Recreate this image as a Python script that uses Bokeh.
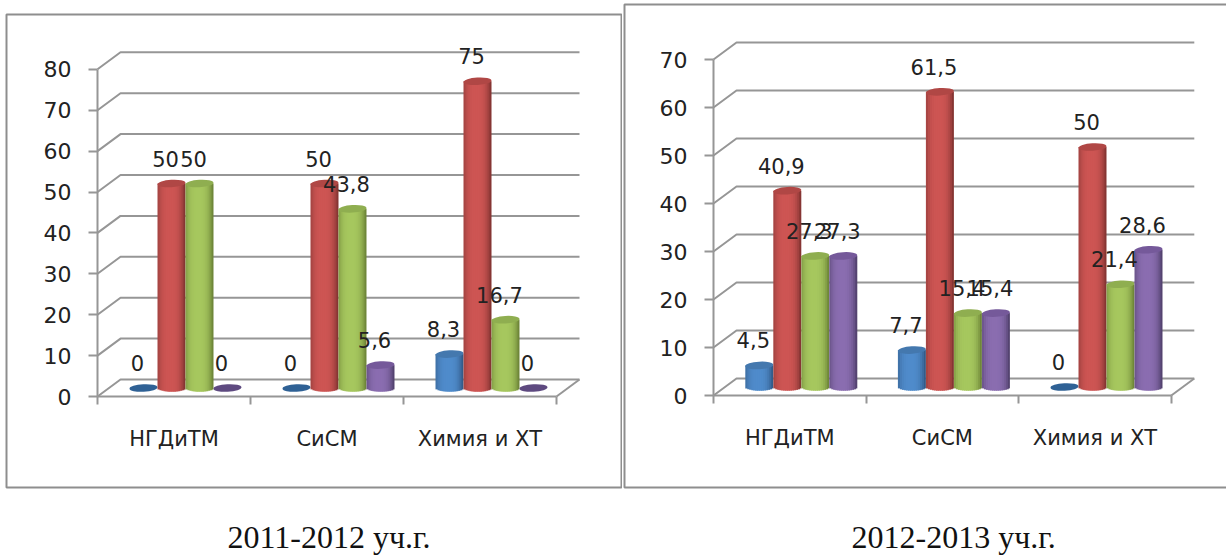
import math
from bokeh.plotting import figure
from bokeh.layouts import row
from bokeh.models import LinearAxis, FixedTicker, Range1d, BoxAnnotation, Label
from bokeh.core.properties import value
from bokeh.embed import file_html
from bokeh.resources import INLINE

categories = ["НГДиТМ", "СиСМ", "Химия и ХТ"]

left_blue = [0, 0, 8.3]
left_red = [50, 50, 75]
left_green = [50, 43.8, 16.7]
left_purple = [0, 5.6, 0]
left_ticks = [0, 10, 20, 30, 40, 50, 60, 70, 80]
left_caption = "2011-2012 уч.г."

right_blue = [4.5, 7.7, 0]
right_red = [40.9, 61.5, 50]
right_green = [27.3, 15.4, 21.4]
right_purple = [27.3, 15.4, 28.6]
right_ticks = [0, 10, 20, 30, 40, 50, 60, 70]
right_caption = "2012-2013 уч.г."

# (edge, centre, top cap, flat disc)
palette = [
    ("#35608f", "#4f8bcb", "#4478ae", "#2f6195"),
    ("#8c3836", "#cd5553", "#b04745", "#a33f3d"),
    ("#738c3c", "#a6c75e", "#8fae50", "#7f9b45"),
    ("#584675", "#8a6db0", "#75599a", "#5e4a80"),
]

GRID = "#969696"
INK = "#222222"
FONT = "DejaVu Sans"
BAR_PX = 28.0
CAP_PX = 7.5
DEPTH_X = 23.0
DEPTH_Y = 17.0
STRIPS = 14
HEIGHT = 556


def mix(a, b, f):
    ca = [int(a[i:i + 2], 16) for i in (1, 3, 5)]
    cb = [int(b[i:i + 2], 16) for i in (1, 3, 5)]
    return "#%02x%02x%02x" % tuple(round(x + (y - x) * f) for x, y in zip(ca, cb))


def label_text(v):
    return f"{v:g}".replace(".", ",")


def chart(series, ticks, caption, width, x0, cat_px, y0, unit_px, frame, cap_x):
    p = figure(width=width, height=HEIGHT, toolbar_location=None, output_backend="svg",
               x_range=Range1d((0 - x0) / cat_px, (width - x0) / cat_px),
               y_range=Range1d((y0 - HEIGHT) / unit_px, y0 / unit_px),
               min_border=0, min_border_left=0, min_border_right=0,
               min_border_top=0, min_border_bottom=0,
               x_axis_type=None, y_axis_type=None)
    p.outline_line_color = None
    p.background_fill_color = "white"
    p.border_fill_color = "white"

    l, t, r, b = frame
    p.add_layout(BoxAnnotation(left=l, right=r, top=HEIGHT - t, bottom=HEIGHT - b,
                               left_units="screen", right_units="screen",
                               top_units="screen", bottom_units="screen",
                               fill_color=None, fill_alpha=0, line_color="#8e8e8e",
                               line_alpha=1, line_width=2, level="glyph"))

    dx = DEPTH_X / cat_px
    dy = DEPTH_Y / unit_px
    n = len(categories)

    # walls: slanted then horizontal rule for each tick
    xs, ys = [], []
    for tk in ticks:
        xs.append([0, dx, n + dx])
        ys.append([tk, tk + dy, tk + dy])
    xs.append([n, n + dx])
    ys.append([0, dy])
    p.multi_line(xs, ys, line_color=GRID, line_width=2)

    # cylinders
    bar = BAR_PX / cat_px
    cap_v = CAP_PX / unit_px
    for s, vals in enumerate(series):
        edge, centre, cap, disc = palette[s]
        for c, v in enumerate(vals):
            xc = c + 0.5 + (s - 1.5) * bar + dx / 2
            base = dy / 2
            if v == 0:
                p.ellipse([xc], [base], width=BAR_PX, height=CAP_PX, width_units="screen",
                          height_units="screen", angle=0.05, fill_color=disc, line_color=None)
                continue
            lefts, rights, tops, bottoms, cols = [], [], [], [], []
            for k in range(STRIPS):
                a = -1 + 2 * k / STRIPS
                b_ = -1 + 2 * (k + 1) / STRIPS
                m = (a + b_) / 2
                lefts.append(xc + a * bar / 2)
                rights.append(xc + min(b_ + 0.06, 1) * bar / 2)
                tops.append(base + v)
                bottoms.append(base - cap_v / 2 * math.sqrt(max(0, 1 - m * m)))
                cols.append(mix(edge, centre, 1 - abs(m + 0.1) ** 3))
            p.quad(left=lefts, right=rights, top=tops, bottom=bottoms,
                   fill_color=cols, line_color=None)
            p.ellipse([xc], [base + v], width=BAR_PX, height=CAP_PX, width_units="screen",
                      height_units="screen", angle=0.06, fill_color=cap, line_color=None)

    # value labels
    lx, ly, lt = [], [], []
    for s, vals in enumerate(series):
        for c, v in enumerate(vals):
            lx.append(c + 0.5 + (s - 1.5) * bar + dx / 2)
            ly.append(dy / 2 + v)
            lt.append(label_text(v))
    p.text(lx, ly, text=lt, x_offset=-6, y_offset=-25, text_align="center",
           text_baseline="middle", text_font=value(FONT), text_font_size="21px",
           text_color=INK)

    # axes
    yax = LinearAxis(ticker=FixedTicker(ticks=ticks), fixed_location=0, bounds=(0, max(ticks)))
    yax.axis_line_color = GRID
    yax.axis_line_width = 2
    yax.major_tick_line_color = GRID
    yax.major_tick_line_width = 2
    yax.major_tick_out = 9
    yax.major_tick_in = 0
    yax.minor_tick_line_color = None
    yax.major_label_standoff = 17
    yax.major_label_text_font = FONT
    yax.major_label_text_font_size = "22px"
    yax.major_label_text_color = INK
    p.add_layout(yax, "left")

    xax = LinearAxis(ticker=FixedTicker(ticks=list(range(n + 1))), fixed_location=0, bounds=(0, n))
    xax.axis_line_color = GRID
    xax.axis_line_width = 2
    xax.major_tick_line_color = GRID
    xax.major_tick_line_width = 2
    xax.major_tick_out = 8
    xax.major_tick_in = 0
    xax.minor_tick_line_color = None
    xax.major_label_overrides = {i: "" for i in range(n + 1)}
    p.add_layout(xax, "below")

    cax = LinearAxis(ticker=FixedTicker(ticks=[i + 0.5 for i in range(n)]), fixed_location=0)
    cax.axis_line_color = None
    cax.major_tick_line_color = None
    cax.minor_tick_line_color = None
    cax.major_tick_out = 0
    cax.major_tick_in = 0
    cax.major_label_overrides = {i + 0.5: categories[i] for i in range(n)}
    cax.major_label_standoff = 30
    cax.major_label_text_font = FONT
    cax.major_label_text_font_size = "21px"
    cax.major_label_text_color = INK
    p.add_layout(cax, "below")

    p.add_layout(Label(x=cap_x, y=HEIGHT - 536, x_units="screen", y_units="screen", text=caption,
                       text_font="Liberation Serif", text_font_size="32px",
                       text_color="#111111", text_align="left", text_baseline="middle"))
    return p


a = chart([left_blue, left_red, left_green, left_purple], left_ticks, left_caption,
          622, 97, 153, 396, 4.09, (6, 14, 621, 487), 227)
b = chart([right_blue, right_red, right_green, right_purple], right_ticks, right_caption,
          604, 91, 152.6, 395, 4.8, (2, 4, 640, 487), 229)

page = row(a, b)
open("out.html", "w").write(file_html(page, INLINE))
